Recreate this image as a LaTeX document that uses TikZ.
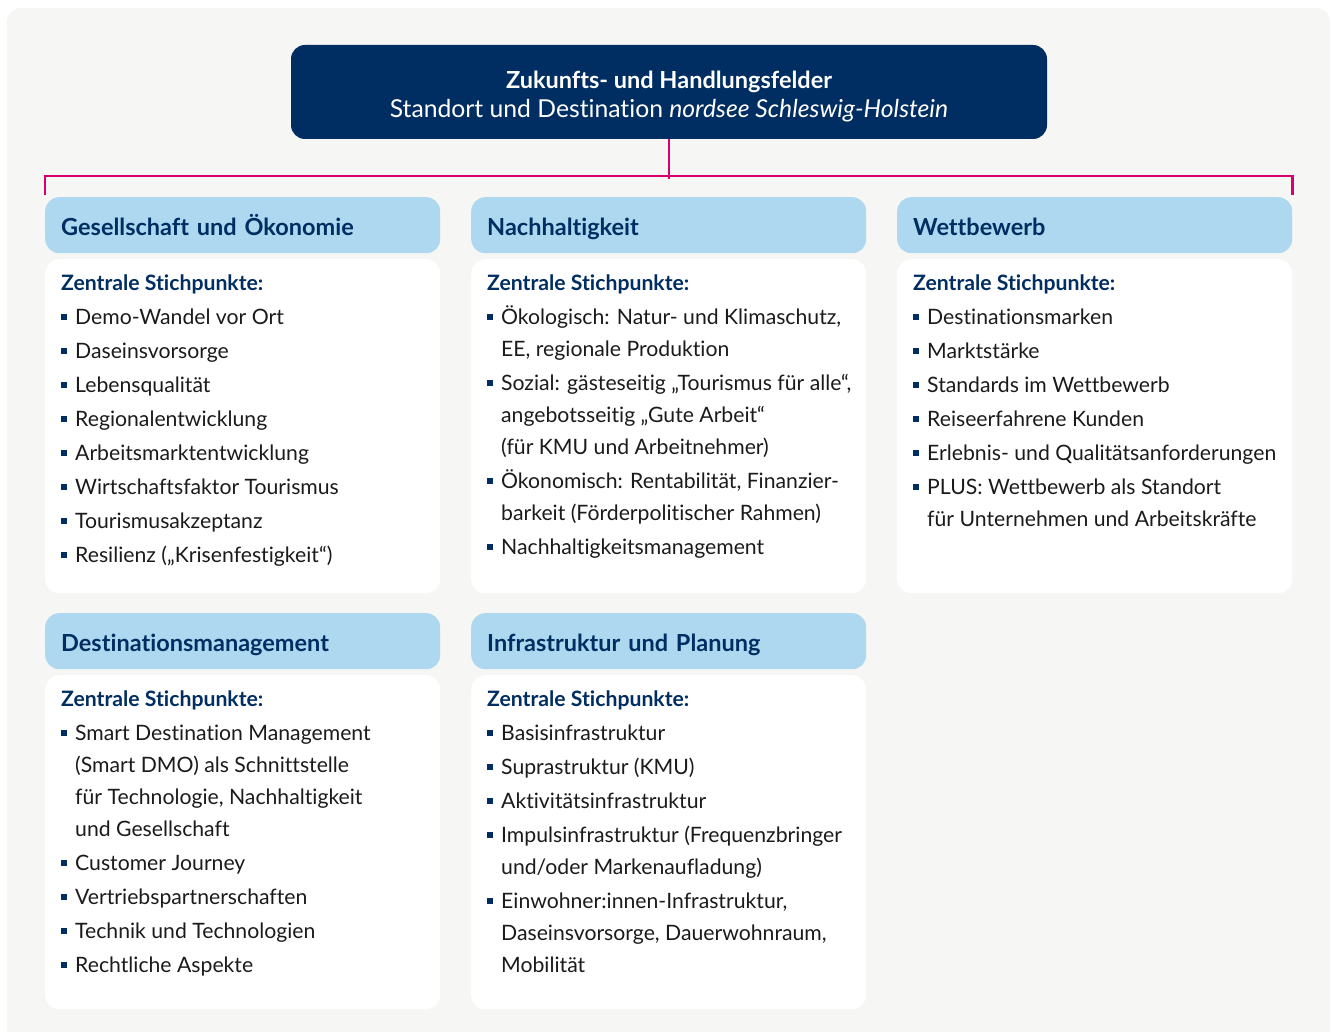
\documentclass[tikz,border=0pt]{standalone}
\usepackage{fontspec}
\setmainfont{Lato}[Ligatures=NoCommon]
\definecolor{navy}{HTML}{002E62}
\definecolor{hellblau}{HTML}{ADD8EF}
\definecolor{magenta}{HTML}{D6006E}
\definecolor{grund}{HTML}{F6F6F4}
\definecolor{schrift}{HTML}{1B1B1B}
% bullet and list lines
\newcommand\blt{\textcolor{navy}{\rule[4.5pt]{5.5pt}{5.5pt}}}
\newcommand\pkt[1]{\par\vspace{2pt}\noindent\makebox[14pt][l]{\blt}\mbox{#1}}
\newcommand\wei[1]{\par\noindent\hspace*{14pt}\mbox{#1}}
\newcommand\zs{\noindent\rule{0pt}{31pt}\textbf{\color{navy}Zentrale Stichpunkte:}}
\newenvironment{liste}{\begin{minipage}[c][334pt][t]{363pt}\fontsize{21.2}{32}\selectfont\color{schrift}\zs}{\end{minipage}}
\begin{document}
\begin{tikzpicture}[
x=1pt,y=-1pt,
kasten/.style={fill=navy,text=white,rounded corners=14pt,minimum width=756pt,minimum height=94pt,align=center,font=\fontsize{23.5}{29}\selectfont},
kopf/.style={anchor=north west,fill=hellblau,text=navy,rounded corners=14pt,text width=363pt,inner xsep=16pt,inner ysep=0pt,text height=22pt,text depth=1pt,minimum height=56pt,align=left,font=\fontsize{23.5}{25}\selectfont\bfseries},
feld/.style={anchor=north west,fill=white,rounded corners=14pt,inner sep=0pt,minimum width=395pt,minimum height=334pt},
link/.style={magenta,line width=2.5pt}
]
\useasboundingbox (0,0) rectangle (1333,1032);
\fill[grund,rounded corners=14pt] (7,8) rectangle (1330,1060);

\node[kasten] (top) at (669,92) {\rule{0pt}{26pt}\textbf{Zukunfts- und Handlungsfelder}\\\fontsize{24.7}{29}\selectfont Standort und Destination \textit{nordsee Schleswig-Holstein}};

% first row
\node[kopf] (k1) at (45,197) {Gesellschaft und Ökonomie};
\node[feld] (b1) at (45,259) {\begin{liste}
\pkt{Demo-Wandel vor Ort}
\pkt{Daseinsvorsorge}
\pkt{Lebensqualität}
\pkt{Regionalentwicklung}
\pkt{Arbeitsmarktentwicklung}
\pkt{Wirtschaftsfaktor Tourismus}
\pkt{Tourismusakzeptanz}
\pkt{Resilienz („Krisenfestigkeit“)}
\end{liste}};

\node[kopf] (k2) at (471,197) {Nachhaltigkeit};
\node[feld] (b2) at (471,259) {\begin{liste}
\pkt{Ökologisch: Natur- und Klimaschutz,}
\wei{EE, regionale Produktion}
\pkt{Sozial: gästeseitig „Tourismus für alle“,}
\wei{angebotsseitig „Gute Arbeit“}
\wei{(für KMU und Arbeitnehmer)}
\pkt{Ökonomisch: Rentabilität, Finanzier-}
\wei{barkeit (Förderpolitischer Rahmen)}
\pkt{Nachhaltigkeitsmanagement}
\end{liste}};

\node[kopf] (k3) at (897,197) {Wettbewerb};
\node[feld] (b3) at (897,259) {\begin{liste}
\pkt{Destinationsmarken}
\pkt{Marktstärke}
\pkt{Standards im Wettbewerb}
\pkt{Reiseerfahrene Kunden}
\pkt{Erlebnis- und Qualitätsanforderungen}
\pkt{PLUS: Wettbewerb als Standort}
\wei{für Unternehmen und Arbeitskräfte}
\end{liste}};

% second row
\node[kopf] (k4) at (45,613) {Destinationsmanagement};
\node[feld] (b4) at (45,675) {\begin{liste}
\pkt{Smart Destination Management}
\wei{(Smart DMO) als Schnittstelle}
\wei{für Technologie, Nachhaltigkeit}
\wei{und Gesellschaft}
\pkt{Customer Journey}
\pkt{Vertriebspartnerschaften}
\pkt{Technik und Technologien}
\pkt{Rechtliche Aspekte}
\end{liste}};

\node[kopf] (k5) at (471,613) {Infrastruktur und Planung};
\node[feld] (b5) at (471,675) {\begin{liste}
\pkt{Basisinfrastruktur}
\pkt{Suprastruktur (KMU)}
\pkt{Aktivitätsinfrastruktur}
\pkt{Impulsinfrastruktur (Frequenzbringer}
\wei{und/oder Markenaufladung)}
\pkt{Einwohner:innen-Infrastruktur,}
\wei{Daseinsvorsorge, Dauerwohnraum,}
\wei{Mobilität}
\end{liste}};

\draw[link] (top.south) -- ++(0,40);
\draw[link] ([yshift=2pt]k1.north west) -- ++(0,-19) -| ([yshift=2pt]k3.north east);
\end{tikzpicture}
\end{document}
